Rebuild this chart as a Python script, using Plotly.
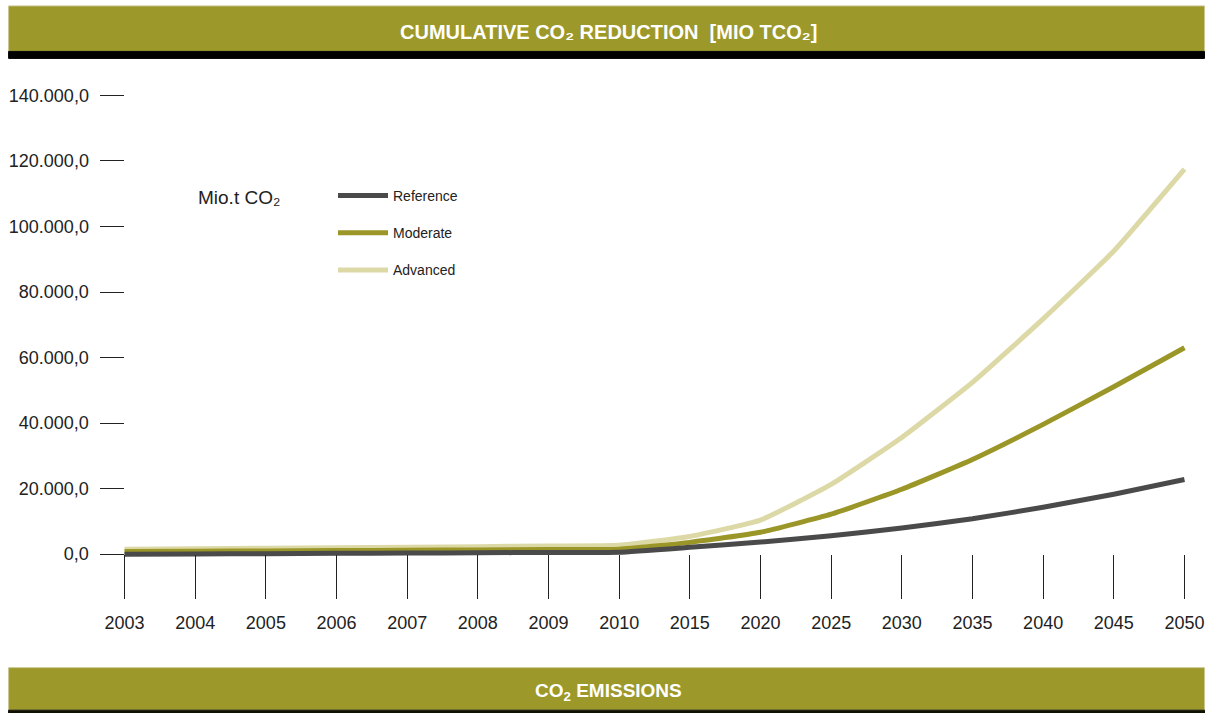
import plotly.graph_objects as go

# Cumulative CO2 reduction by scenario, Mio t CO2
years = ["2003", "2004", "2005", "2006", "2007", "2008", "2009", "2010",
         "2015", "2020", "2025", "2030", "2035", "2040", "2045", "2050"]
reference = [0, 80, 160, 250, 340, 430, 520, 620,
             2100, 3700, 5600, 8000, 10800, 14300, 18300, 22800]
moderate = [800, 900, 1000, 1100, 1200, 1300, 1400, 1500,
            3600, 6700, 12200, 19800, 28900, 39600, 51100, 63000]
advanced = [1500, 1650, 1800, 1950, 2100, 2300, 2500, 2700,
            5400, 10400, 21300, 35600, 52400, 71800, 92500, 117500]
y_ticks = [0, 20000, 40000, 60000, 80000, 100000, 120000, 140000]

series = [("Reference", reference, "#4a4a4a"),
          ("Moderate", moderate, "#9b9628"),
          ("Advanced", advanced, "#dcd9a6")]

OLIVE = "#9c9829"
FONT = "Liberation Sans, Arial, sans-serif"

W, H = 1217, 713
x_idx = list(range(len(years)))

fig = go.Figure()
# draw the light series first so darker lines sit on top
for i, (name, vals, col) in enumerate(reversed(series)):
    fig.add_trace(go.Scatter(
        x=x_idx, y=vals, mode="lines", name=name,
        line=dict(color=col, width=5, shape="spline", smoothing=0.4),
        legendgroup=name, legendrank=3 - i,
        hoverinfo="x+y+name",
    ))

ml, mr, mt, mb = 120.5, 28.5, 78.6, 149.2
pw = W - ml - mr
ph = H - mt - mb
x0_frac = (124 - ml) / pw
y0_frac = (H - mb - 554) / ph  # fraction of plot height where y = 0 sits


def px_x(x):
    return (x - ml) / pw


def px_y(y):
    return (H - mb - y) / ph


fig.update_layout(
    width=W, height=H,
    margin=dict(l=ml, r=mr, t=mt, b=mb, pad=0, autoexpand=False),
    paper_bgcolor="white", plot_bgcolor="white",
    separators=",.",
    font=dict(family=FONT, color="#222222"),
    showlegend=True,
    legend=dict(
        xref="container", yref="container",
        x=333 / W, y=1 - 180 / H, xanchor="left", yanchor="top",
        font=dict(size=14, color="#222222", family=FONT),
        tracegroupgap=16, bgcolor="rgba(0,0,0,0)",
        itemwidth=50,
    ),
    xaxis=dict(
        range=[-0.05, 15.05], automargin=False,
        tickmode="array", tickvals=x_idx, ticktext=years, tickangle=0,
        ticks="outside", ticklen=44, tickwidth=1.3, tickcolor="#222222",
        showgrid=False, zeroline=False, showline=False,
        anchor="free", position=y0_frac,
        tickfont=dict(size=18, family=FONT, color="#222222"),
        ticklabelstandoff=8,
    ),
    yaxis=dict(
        range=[-3000, 145000], automargin=False,
        tickmode="array", tickvals=y_ticks, tickformat=",.1f",
        ticks="outside", ticklen=24, tickwidth=1.3, tickcolor="#222222",
        showgrid=False, zeroline=False, showline=False,
        anchor="free", position=x0_frac,
        tickfont=dict(size=18, family=FONT, color="#222222"),
        ticklabelstandoff=8,
    ),
)


# header and footer bands
def band(y_top, y_bot, color, border=None):
    return dict(type="rect", xref="paper", yref="paper",
                x0=px_x(8), x1=px_x(1205),
                y0=px_y(y_bot), y1=px_y(y_top),
                fillcolor=color, line=dict(width=1, color=border or color),
                layer="above")


fig.update_layout(shapes=[
    band(5.5, 51, OLIVE, "#c9c691"),
    band(51, 58, "#000000"),
    band(667.5, 710, OLIVE, "#c9c691"),
    band(710, 713, "#111100"),
])

fig.add_annotation(
    xref="paper", yref="paper", x=px_x(608), y=px_y(32),
    text="<b>CUMULATIVE CO₂ REDUCTION  [MIO TCO₂]</b>", showarrow=False,
    font=dict(size=20, color="white", family=FONT), xanchor="center", yanchor="middle",
)
fig.add_annotation(
    xref="paper", yref="paper", x=px_x(608), y=px_y(692),
    text="<b>CO<sub>2</sub> EMISSIONS</b>", showarrow=False,
    font=dict(size=19, color="white", family=FONT), xanchor="center", yanchor="middle",
)
fig.add_annotation(
    xref="paper", yref="paper", x=px_x(196), y=px_y(197),
    text="Mio.t CO₂", showarrow=False,
    font=dict(size=19, color="#222222", family=FONT), xanchor="left", yanchor="middle",
)

fig.write_html("out.html")
